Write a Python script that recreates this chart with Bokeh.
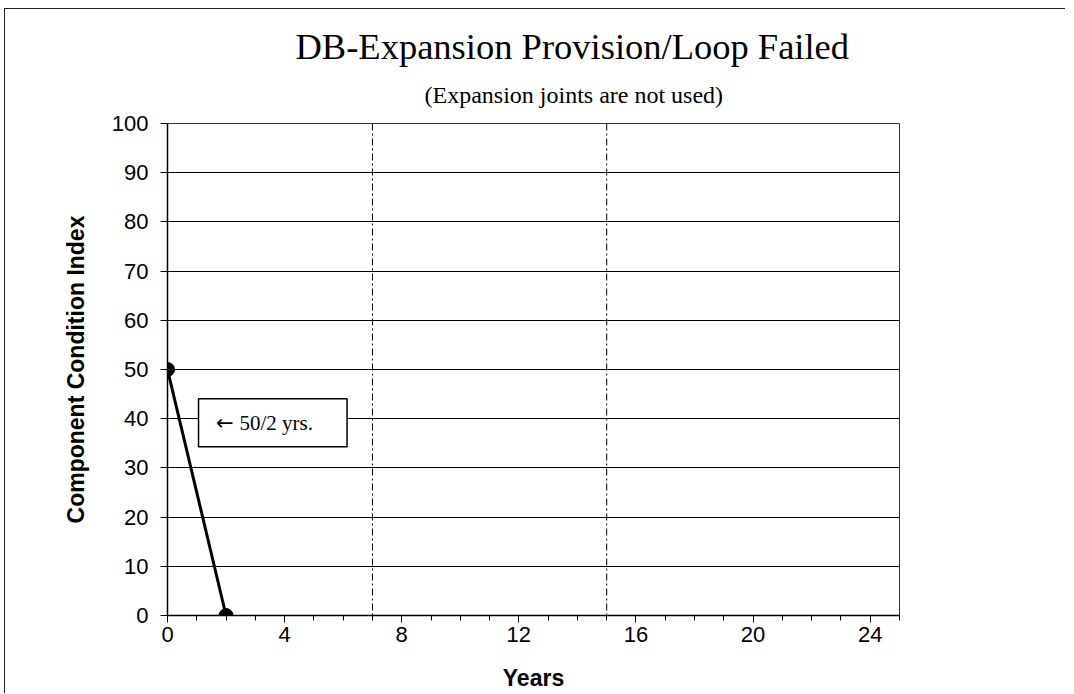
from bokeh.plotting import figure
from bokeh.models import Span, Label, Title, FixedTicker, Range1d
from bokeh.embed import file_html
from bokeh.resources import INLINE

title_text = "DB-Expansion Provision/Loop Failed"
subtitle_text = "(Expansion joints are not used)"
years = [0, 2]
condition = [50, 0]
marker_years = [7, 15]
x_ticks = [0, 4, 8, 12, 16, 20, 24]
x_minor = list(range(0, 26))
y_ticks = [0, 10, 20, 30, 40, 50, 60, 70, 80, 90, 100]
note_arrow = "\u2190"
note_text = "50/2 yrs."

p = figure(width=1060, height=680, output_backend="svg", toolbar_location=None,
           x_range=Range1d(0, 25), y_range=Range1d(0, 100),
           min_border_left=162, min_border_right=166, min_border_top=114, min_border_bottom=74)
p.frame_width = 732
p.frame_height = 492
p.styles = {"margin-left": "4px", "margin-top": "8px",
            "border-top": "1px solid #222", "border-left": "1px solid #222"}

sub = Title(text=subtitle_text, align="left", text_font="Liberation Serif",
            text_font_size="24px", text_font_style="normal", text_color="black",
            offset=257, standoff=31)
p.add_layout(sub, "above")
main = Title(text=title_text, align="left", text_font="Liberation Serif",
             text_font_size="36.5px", text_font_style="normal", text_color="black",
             offset=128, standoff=-5)
p.add_layout(main, "above")

p.outline_line_color = "#333"
p.outline_line_width = 1
p.background_fill_color = "white"
p.border_fill_color = "white"

p.xgrid.grid_line_color = None
p.ygrid.grid_line_color = "black"
p.ygrid.grid_line_width = 1
p.ygrid.ticker = FixedTicker(ticks=y_ticks)

p.xaxis.ticker = FixedTicker(ticks=x_ticks, minor_ticks=x_minor)
p.yaxis.ticker = FixedTicker(ticks=y_ticks)
for ax in (p.xaxis, p.yaxis):
    ax.axis_line_color = "black"
    ax.axis_line_width = 1.5
    ax.major_tick_line_color = "black"
    ax.major_tick_out = 7
    ax.major_tick_in = 0
    ax.major_label_text_font = "Liberation Sans"
    ax.major_label_text_font_size = "22px"
    ax.major_label_text_color = "black"
    ax.axis_label_text_font = "Liberation Sans"
    ax.axis_label_text_font_style = "bold"
    ax.axis_label_text_font_size = "23px"
    ax.axis_label_text_color = "black"
p.xaxis.minor_tick_line_color = "black"
p.xaxis.minor_tick_out = 5
p.xaxis.minor_tick_in = 0
p.yaxis.minor_tick_line_color = None
p.xaxis.axis_label = "Years"
p.yaxis.axis_label = "Component Condition Index"
p.xaxis.major_label_standoff = 4
p.xaxis.axis_label_standoff = 20
p.yaxis.major_label_standoff = 12
p.yaxis.axis_label_standoff = 20

for yr in marker_years:
    p.add_layout(Span(location=yr, dimension="height", line_color="black",
                      line_width=1, line_dash="7 3 2 3"))

p.line(years, condition, line_color="black", line_width=3)
p.scatter(years, condition, size=14, color="black")

note = Label(x=1.06, y=39.2, text=note_text, text_font="Liberation Serif",
             text_font_size="21px", text_baseline="middle", text_align="left",
             text_color="black",
             border_line_color="black", border_line_width=1.5,
             background_fill_color="white", padding=(41, 34, 12, 12))
p.add_layout(note)
arrow = Label(x=1.66, y=39.2, text=note_arrow, text_font="DejaVu Sans",
              text_font_size="21px", text_baseline="middle", text_align="left",
              text_color="black", padding=(0, 0, 12, 12))
p.add_layout(arrow)

open("out.html", "w").write(file_html(p, INLINE))
